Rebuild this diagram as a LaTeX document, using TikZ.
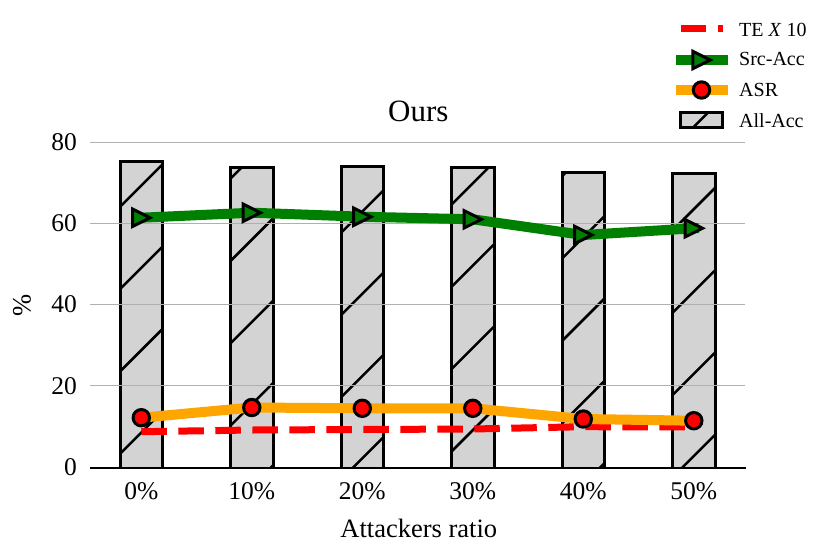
\documentclass[tikz,border=0pt]{standalone}
\usepackage{fontspec}
\setmainfont{Liberation Serif}
\definecolor{mgreen}{HTML}{008000}
\definecolor{morange}{HTML}{FFA500}
\definecolor{mred}{HTML}{FF0000}
\definecolor{barfill}{HTML}{D3D3D3}
\definecolor{gridc}{HTML}{B0B0B0}
\tikzset{
  barbox/.style={draw=black, line width=3pt},
  hatchline/.style={black, line width=2.5pt},
  gridline/.style={gridc, line width=1pt},
  axisline/.style={black, line width=2pt},
  srcline/.style={mgreen, line width=10pt, line cap=rect, line join=round},
  asrline/.style={morange, line width=10pt, line cap=rect, line join=round},
  teline/.style={mred, line width=7pt, dash pattern=on 25.5pt off 11.5pt},
  trimark/.style={draw=black, fill=mgreen, line width=3pt, line join=miter},
  circmark/.style={draw=black, fill=mred, line width=3pt},
  ticklab/.style={font=\fontsize{25.5}{30}\selectfont, inner sep=0pt},
  axlab/.style={font=\fontsize{26.5}{31}\selectfont, inner sep=0pt},
  titlelab/.style={font=\fontsize{31}{36}\selectfont, inner sep=0pt},
  leglab/.style={font=\fontsize{20}{24}\selectfont, inner sep=0pt, anchor=west},
}
\begin{document}
\begin{tikzpicture}[x=1pt,y=-1pt]
\useasboundingbox (0,0) rectangle (830,555);
\fill[white] (0,0) rectangle (830,555);

% bars with hatch
\foreach \c/\t in {141.3/161.7, 251.8/167.3, 362.3/166.7, 472.8/167.7, 583.3/172.3, 693.8/173.3}{
  \begin{scope}
    \clip (\c-21.3,\t) rectangle (\c+21.3,467);
    \fill[barfill] (\c-21.3,\t) rectangle (\c+21.3,467);
    \foreach \k in {0,...,16}{
      \draw[hatchline] ({\c-40},{80+82.3*\k-\c+40}) -- ({\c+40},{80+82.3*\k-\c-40});
    }
  \end{scope}
  \draw[barbox] (\c-21.3,467) -- (\c-21.3,\t) -- (\c+21.3,\t) -- (\c+21.3,467);
}

% grid lines
\foreach \yy in {385.75, 304.5, 223.25, 142}{
  \draw[gridline] (90,\yy) -- (745,\yy);
}
\coordinate (axl) at (90,467.5);
\coordinate (axr) at (746,467.5);
\draw[axisline] (axl) -- (axr);

% data coordinates
\coordinate (t0) at (141.3,431.7);
\coordinate (t1) at (251.8,430);
\coordinate (t2) at (362.3,429.5);
\coordinate (t3) at (472.8,429);
\coordinate (t4) at (583.3,426.7);
\coordinate (t5) at (693.8,427);
\coordinate (s0) at (141.3,217.7);
\coordinate (s1) at (251.8,212.7);
\coordinate (s2) at (362.3,216.7);
\coordinate (s3) at (472.8,219.3);
\coordinate (s4) at (583.3,235);
\coordinate (s5) at (693.8,228.3);
\coordinate (a0) at (141.3,417.7);
\coordinate (a1) at (251.8,407.5);
\coordinate (a2) at (362.3,408.3);
\coordinate (a3) at (472.8,408.3);
\coordinate (a4) at (583.3,419);
\coordinate (a5) at (693.8,420.7);

% TE x 10
\draw[teline] (t0) -- (t1) -- (t2) -- (t3) -- (t4) -- (t5);
% Src-Acc
\draw[srcline] (s0) -- (s1) -- (s2) -- (s3) -- (s4) -- (s5);
\foreach \p in {s0,s1,s2,s3,s4,s5}{
  \draw[trimark, shift={(\p)}] (8.7,0) -- (-8.7,-8.7) -- (-8.7,8.7) -- cycle;
}
% ASR
\draw[asrline] (a0) -- (a1) -- (a2) -- (a3) -- (a4) -- (a5);
\foreach \p in {a0,a1,a2,a3,a4,a5}{
  \draw[circmark] (\p) circle[radius=8.2];
}

% y tick labels
\node[ticklab, anchor=east] (y0) at (77,467) {0};
\node[ticklab, anchor=east] (y20) at (77,385.75) {20};
\node[ticklab, anchor=east] (y40) at (77,304.5) {40};
\node[ticklab, anchor=east] (y60) at (77,223.25) {60};
\node[ticklab, anchor=east] (y80) at (77,142) {80};
% x tick labels
\node[ticklab, anchor=base] (x0) at (141.3,499.5) {0\%};
\node[ticklab, anchor=base] (x1) at (251.8,499.5) {10\%};
\node[ticklab, anchor=base] (x2) at (362.3,499.5) {20\%};
\node[ticklab, anchor=base] (x3) at (472.8,499.5) {30\%};
\node[ticklab, anchor=base] (x4) at (583.3,499.5) {40\%};
\node[ticklab, anchor=base] (x5) at (693.8,499.5) {50\%};
% axis labels and title
\node[axlab, anchor=base] (xlab) at (418.8,537) {Attackers ratio};
\node[axlab, rotate=90] (ylab) at (22,305) {\%};
\node[titlelab, anchor=base] (title) at (418.3,121) {Ours};

% legend
\coordinate (l1a) at (681,28.5);
\coordinate (l1b) at (723,28.5);
\draw[mred, line width=7pt, dash pattern=on 25.3pt off 12pt] (l1a) -- (l1b);
\node[leglab] (leg1) at (739,29.5) {TE \textit{X} 10};
\coordinate (l2a) at (681,60);
\coordinate (l2b) at (723,60);
\coordinate (l2m) at (701.5,60);
\draw[srcline] (l2a) -- (l2b);
\draw[trimark, shift={(l2m)}] (8.7,0) -- (-8.7,-8.7) -- (-8.7,8.7) -- cycle;
\node[leglab] (leg2) at (739,59) {Src-Acc};
\coordinate (l3a) at (681,90);
\coordinate (l3b) at (723,90);
\coordinate (l3m) at (701.5,90);
\draw[asrline] (l3a) -- (l3b);
\draw[circmark] (l3m) circle[radius=8.2];
\node[leglab] (leg3) at (739,90) {ASR};
\begin{scope}
  \clip (680.5,112.5) rectangle (722,127.5);
  \fill[barfill] (680.5,112.5) rectangle (722,127.5);
  \draw[hatchline] (690.7,130) -- (710.7,110);
\end{scope}
\draw[barbox] (680.5,112.5) rectangle (722,127.5);
\node[leglab] (leg4) at (739,120.5) {All-Acc};
\end{tikzpicture}
\end{document}
